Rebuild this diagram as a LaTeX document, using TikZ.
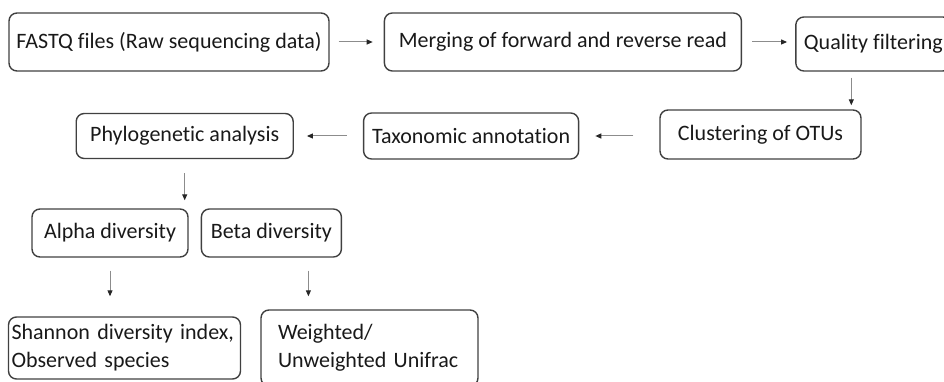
\documentclass[tikz,border=0pt]{standalone}
\usepackage{fontspec}
\setmainfont{Carlito}[Ligatures=NoCommon]
\usetikzlibrary{positioning,arrows.meta}

\tikzset{
  stepbox/.style={draw=black!75, line width=1.4pt, rounded corners=8pt, inner sep=2pt,
    font=\fontsize{22}{28}\selectfont, text=black!90},
  flow/.style={draw=black!45, line width=1pt,
    -{Triangle[length=6pt,width=5pt,color=black!85]}}
}

\begin{document}
\begin{tikzpicture}[x=1pt, y=1pt]
        \useasboundingbox (0,0) rectangle (944,-382);

        % first row
        \node[stepbox, minimum width=320pt, minimum height=58pt] (fastq) at (169,-42) {FASTQ files (Raw sequencing data)};
        \node[stepbox, minimum width=357pt, minimum height=58pt, right=54pt of fastq] (merge) {Merging of forward and reverse read};
        \node[stepbox, minimum width=155pt, minimum height=54pt, right=53pt of merge, yshift=-2pt] (qual) {Quality filtering};

        % second row
        \node[stepbox, minimum width=201pt, minimum height=49pt] (clust) at (760.5,-134.5) {Clustering of OTUs};
        \node[stepbox, minimum width=215pt, minimum height=46pt, left=80pt of clust, yshift=-1.5pt] (taxo) {Taxonomic annotation};
        \node[stepbox, minimum width=217pt, minimum height=45pt, left=69pt of taxo] (phylo) {Phylogenetic analysis};

        % diversity
        \node[stepbox, minimum width=156pt, minimum height=48pt] (alpha) at (110,-233) {Alpha diversity};
        \node[stepbox, minimum width=140pt, minimum height=48pt, right=12pt of alpha] (beta) {Beta diversity};

        % results
        \node[stepbox, text width=226pt, minimum height=62pt, align=left, inner xsep=3pt] (shannon) at (124.5,-348) {Shannon diversity index,\\Observed species};
        \node[stepbox, text width=183pt, minimum height=76pt, align=left, inner xsep=17pt] (unifrac) at (369.5,-348) {Weighted/\\Unweighted Unifrac};

        % arrows
        \draw[flow, shorten <=9pt, shorten >=11pt] (fastq.east) -- (fastq.east -| merge.west);
        \draw[flow, shorten <=10pt, shorten >=8pt] (merge.east) -- (merge.east -| qual.west);
        \draw[flow, shorten <=6pt, shorten >=4pt] ([xshift=-22pt]qual.south) -- ([xshift=-22pt]qual.south |- clust.north);
        \draw[flow, shorten <=26pt, shorten >=16pt] (clust.west |- taxo.east) -- (taxo.east);
        \draw[flow, shorten <=16pt, shorten >=13pt] (taxo.west) -- (phylo.east);
        \draw[flow, shorten <=14pt, shorten >=8pt] (phylo.south) -- (phylo.south |- alpha.north);
        \draw[flow, shorten <=13pt, shorten >=20pt] (alpha.south) -- (alpha.south |- shannon.north);
        \draw[flow, shorten <=13pt, shorten >=13pt] ([xshift=37pt]beta.south) -- ([xshift=37pt]beta.south |- unifrac.north);
    \end{tikzpicture}
\end{document}
